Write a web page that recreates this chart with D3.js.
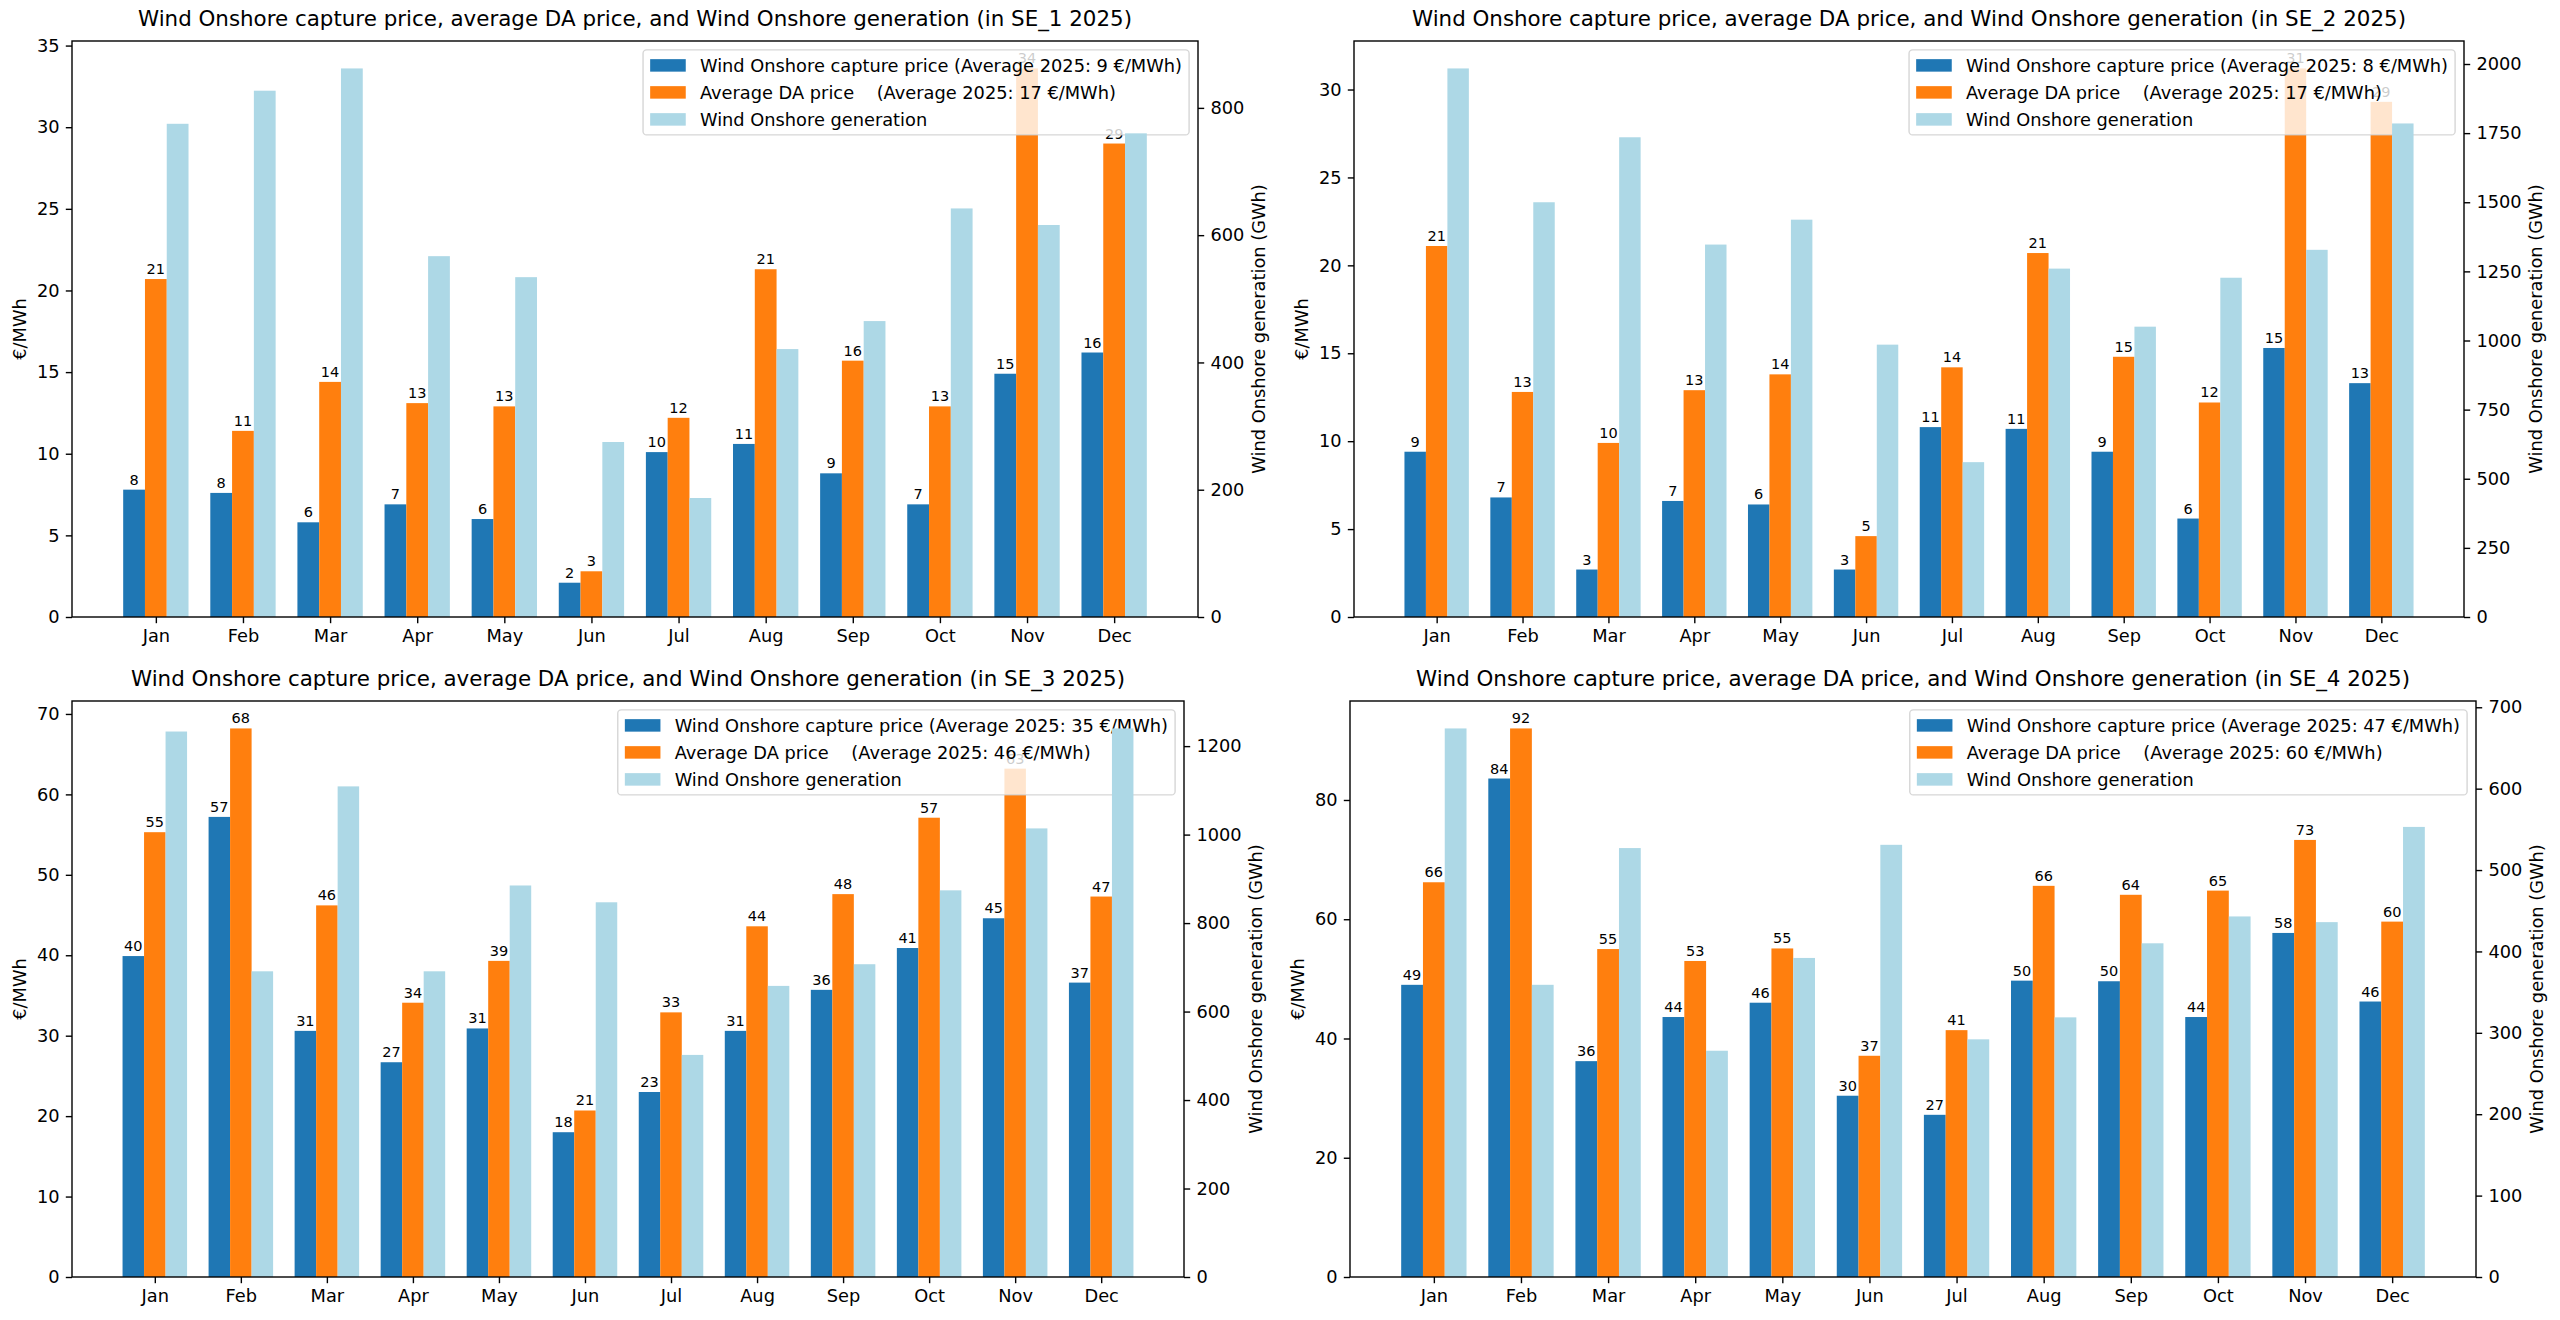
<!DOCTYPE html>
<html>
<head>
<meta charset="utf-8">
<script src="https://cdn.jsdelivr.net/npm/d3@7"></script>
<style>
  body { margin: 0; background: #fff; }
  text { font-family: "DejaVu Sans", sans-serif; fill: #000; }
</style>
</head>
<body>
<svg id="chart" width="2560" height="1320"></svg>
<script>
// --- data ---
const months = ["Jan", "Feb", "Mar", "Apr", "May", "Jun", "Jul", "Aug", "Sep", "Oct", "Nov", "Dec"];
const zones = ["SE_1", "SE_2", "SE_3", "SE_4"];

const captureSE1 = [7.8, 7.6, 5.8, 6.9, 6.0, 2.1, 10.1, 10.6, 8.8, 6.9, 14.9, 16.2];
const daSE1      = [20.7, 11.4, 14.4, 13.1, 12.9, 2.8, 12.2, 21.3, 15.7, 12.9, 33.6, 29.0];
const genSE1     = [775, 827, 862, 567, 534, 275, 187, 421, 465, 642, 616, 760];

const captureSE2 = [9.4, 6.8, 2.7, 6.6, 6.4, 2.7, 10.8, 10.7, 9.4, 5.6, 15.3, 13.3];
const daSE2      = [21.1, 12.8, 9.9, 12.9, 13.8, 4.6, 14.2, 20.7, 14.8, 12.2, 31.2, 29.3];
const genSE2     = [1984, 1500, 1735, 1347, 1437, 985, 560, 1260, 1050, 1227, 1328, 1785];

const captureSE3 = [39.9, 57.2, 30.6, 26.7, 30.9, 18.0, 23.0, 30.6, 35.7, 40.9, 44.6, 36.6];
const daSE3      = [55.3, 68.2, 46.2, 34.1, 39.3, 20.7, 32.9, 43.6, 47.6, 57.1, 63.2, 47.3];
const genSE3     = [1233, 691, 1109, 691, 885, 847, 502, 658, 707, 874, 1014, 1240];

const captureSE4 = [49.0, 83.6, 36.2, 43.6, 46.0, 30.4, 27.2, 49.7, 49.6, 43.6, 57.7, 46.2];
const daSE4      = [66.2, 92.0, 55.0, 53.0, 55.1, 37.1, 41.4, 65.6, 64.1, 64.8, 73.3, 59.6];
const genSE4     = [674, 359, 527, 278, 392, 531, 292, 319, 410, 443, 436, 553];

const captureAvg = [9, 8, 35, 47];
const daAvg      = [17, 17, 46, 60];

const priceTicks = [
  [0, 5, 10, 15, 20, 25, 30, 35],
  [0, 5, 10, 15, 20, 25, 30],
  [0, 10, 20, 30, 40, 50, 60, 70],
  [0, 20, 40, 60, 80]
];
const genTicks = [
  [0, 200, 400, 600, 800],
  [0, 250, 500, 750, 1000, 1250, 1500, 1750, 2000],
  [0, 200, 400, 600, 800, 1000, 1200],
  [0, 100, 200, 300, 400, 500, 600, 700]
];

// panel frames (pixel boxes of each axes)
const panels = [
  { capture: captureSE1, da: daSE1, gen: genSE1, left: 72,   right: 1198, top: 41,  bottom: 617 },
  { capture: captureSE2, da: daSE2, gen: genSE2, left: 1354, right: 2464, top: 41,  bottom: 617 },
  { capture: captureSE3, da: daSE3, gen: genSE3, left: 72,   right: 1184, top: 701, bottom: 1277 },
  { capture: captureSE4, da: daSE4, gen: genSE4, left: 1350, right: 2476, top: 701, bottom: 1277 }
];

const colors = { capture: "#1f77b4", da: "#ff7f0e", gen: "#add8e6" };
const fs = 17.8;      // tick / legend / label font
const tick = 6.2, pad = 6.2;
const fmt = d3.format("d");

const svg = d3.select("#chart");

function styleAxis(g) {
  g.select(".domain").remove();
  g.selectAll("line").attr("stroke", "#000").attr("stroke-width", 1.4);
  g.selectAll("text").attr("font-size", fs).attr("font-family", "DejaVu Sans");
}

function maxTextWidth(g) {
  let m = 0;
  g.selectAll("text").each(function() { m = Math.max(m, this.getBBox().width); });
  return m;
}

function drawPanel(p, i) {
  const g = svg.append("g");
  const x = d3.scaleLinear().domain([-0.9625, 11.9625]).range([p.left, p.right]);
  const y = d3.scaleLinear().domain([0, d3.max(p.capture.concat(p.da)) * 1.05]).range([p.bottom, p.top]);
  const y2 = d3.scaleLinear().domain([0, d3.max(p.gen) * 1.05]).range([p.bottom, p.top]);
  const bw = x(0.25) - x(0);

  // price bars (left axis)
  const series = [
    { key: "capture", vals: p.capture, off: -0.25 },
    { key: "da", vals: p.da, off: 0 }
  ];
  series.forEach(s => {
    g.append("g").selectAll("rect")
      .data(s.vals)
      .enter()
      .append("rect")
      .attr("x", (d, j) => x(j + s.off) - bw / 2)
      .attr("width", bw)
      .attr("y", d => y(d))
      .attr("height", d => y(0) - y(d))
      .attr("fill", colors[s.key]);
  });

  // value labels above the price bars
  series.forEach(s => {
    g.append("g").selectAll("text")
      .data(s.vals)
      .enter()
      .append("text")
      .attr("x", (d, j) => x(j + s.off))
      .attr("y", d => y(d) - 5)
      .attr("text-anchor", "middle")
      .attr("font-size", 14.5)
      .text(d => Math.round(d));
  });

  // bottom axis
  const xa = g.append("g")
    .attr("transform", `translate(0,${p.bottom})`)
    .call(d3.axisBottom(x).tickValues(d3.range(12)).tickFormat(j => months[j]).tickSize(tick).tickPadding(pad));
  styleAxis(xa);

  // left axis
  const ya = g.append("g")
    .attr("transform", `translate(${p.left},0)`)
    .call(d3.axisLeft(y).tickValues(priceTicks[i]).tickFormat(fmt).tickSize(tick).tickPadding(pad));
  styleAxis(ya);
  const lw = maxTextWidth(ya);
  g.append("text")
    .attr("transform", `translate(${p.left - tick - pad - lw - 7.1 - 4.2},${(p.top + p.bottom) / 2}) rotate(-90)`)
    .attr("text-anchor", "middle")
    .attr("font-size", fs)
    .text("€/MWh");

  // title
  g.append("text")
    .attr("x", (p.left + p.right) / 2)
    .attr("y", p.top - 15.5)
    .attr("text-anchor", "middle")
    .attr("font-size", 21.4)
    .text(`Wind Onshore capture price, average DA price, and Wind Onshore generation (in ${zones[i]} 2025)`);

  // legend (belongs to the price axes, so the generation bars go over it)
  const labels = [
    { t: `Wind Onshore capture price (Average 2025: ${captureAvg[i]} €/MWh)`, c: colors.capture },
    { t: `Average DA price    (Average 2025: ${daAvg[i]} €/MWh)`, c: colors.da },
    { t: "Wind Onshore generation", c: colors.gen }
  ];
  const lg = g.append("g");
  const frame = lg.append("rect");
  const texts = lg.selectAll("text.lab")
    .data(labels)
    .enter()
    .append("text")
    .attr("class", "lab")
    .attr("font-size", fs)
    .style("white-space", "pre")
    .text(d => d.t);
  let tw = 0;
  texts.each(function() { tw = Math.max(tw, this.getComputedTextLength()); });
  const fr = p.right - 8.9, ft = p.top + 8.9;
  const fw = 7.1 + 35.6 + 14.2 + tw + 7.1;
  const fl = fr - fw;
  const rowC = k => ft + 15.5 + k * 27;
  frame.attr("x", fl).attr("y", ft).attr("width", fw).attr("height", 31 + 2 * 27)
    .attr("rx", 3.5)
    .attr("fill", "#fff").attr("fill-opacity", 0.8)
    .attr("stroke", "#ccc").attr("stroke-opacity", 0.8).attr("stroke-width", 1.4);
  texts.attr("x", fl + 7.1 + 35.6 + 14.2).attr("y", (d, k) => rowC(k) + 6.3);
  lg.selectAll("rect.h")
    .data(labels)
    .enter()
    .append("rect")
    .attr("class", "h")
    .attr("x", fl + 7.1)
    .attr("y", (d, k) => rowC(k) - 6.25)
    .attr("width", 35.6)
    .attr("height", 12.5)
    .attr("fill", d => d.c);

  // generation bars (right axis), drawn after the legend
  g.append("g").selectAll("rect")
    .data(p.gen)
    .enter()
    .append("rect")
    .attr("x", (d, j) => x(j + 0.25) - bw / 2)
    .attr("width", bw)
    .attr("y", d => y2(d))
    .attr("height", d => y2(0) - y2(d))
    .attr("fill", colors.gen);

  const ra = g.append("g")
    .attr("transform", `translate(${p.right},0)`)
    .call(d3.axisRight(y2).tickValues(genTicks[i]).tickFormat(fmt).tickSize(tick).tickPadding(pad));
  styleAxis(ra);
  const rw = maxTextWidth(ra);
  g.append("text")
    .attr("transform", `translate(${p.right + tick + pad + rw + 7.1 + 13.5},${(p.top + p.bottom) / 2}) rotate(-90)`)
    .attr("text-anchor", "middle")
    .attr("font-size", fs)
    .text("Wind Onshore generation (GWh)");

  // spines
  g.append("rect")
    .attr("x", p.left).attr("y", p.top)
    .attr("width", p.right - p.left).attr("height", p.bottom - p.top)
    .attr("fill", "none").attr("stroke", "#000").attr("stroke-width", 1.4);
}

panels.forEach(drawPanel);
</script>
</body>
</html>
